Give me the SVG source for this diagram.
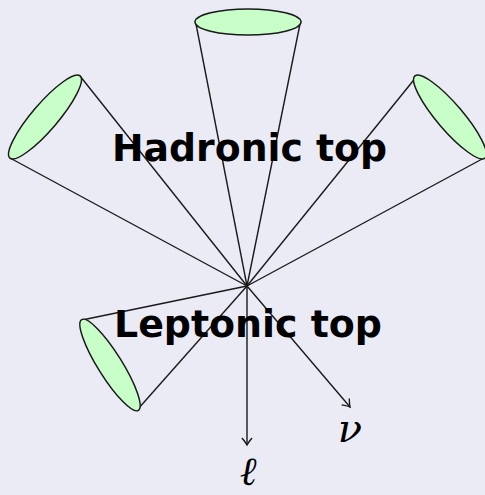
<svg xmlns="http://www.w3.org/2000/svg" width="485" height="495" viewBox="0 0 485 495">
  <defs>
    <style>
      .cone { fill: #c8ffc8; stroke: #1a1a1a; stroke-width: 1.5; }
      .edge { stroke: #1a1a1a; stroke-width: 1.4; fill: none; }
      .lbl { font-family: "DejaVu Sans", "Liberation Sans", sans-serif; font-weight: bold; font-size: 37px; fill: #000; }
      .math { font-family: "DejaVu Serif", "Liberation Serif", serif; font-style: italic; fill: #000; }
    </style>
    <marker id="to" viewBox="-8 -6 10 12" markerWidth="10" markerHeight="12" refX="0" refY="0" orient="auto" markerUnits="userSpaceOnUse">
      <path d="M -7 -5 Q -2 -1 0 0 Q -2 1 -7 5" fill="none" stroke="#1a1a1a" stroke-width="1.4"/>
    </marker>
  </defs>
  <rect width="485" height="495" fill="#ebebf6"/>

  <g id="connectors">
    <!-- top cone -->
    <line class="edge" x1="196" y1="24" x2="247" y2="286"/>
    <line class="edge" x1="300" y1="24" x2="247" y2="286"/>
    <!-- left cone -->
    <line class="edge" x1="80" y1="76" x2="247" y2="286"/>
    <line class="edge" x1="10" y1="158" x2="247" y2="286"/>
    <!-- right cone -->
    <line class="edge" x1="417" y1="76" x2="247" y2="286"/>
    <line class="edge" x1="484" y1="158" x2="247" y2="286"/>
    <!-- leptonic cone -->
    <line class="edge" x1="82" y1="320" x2="247" y2="286"/>
    <line class="edge" x1="138" y1="409" x2="247" y2="286"/>
    <!-- lepton and neutrino -->
    <line class="edge" x1="247" y1="286" x2="247" y2="445" marker-end="url(#to)"/>
    <line class="edge" x1="247" y1="286" x2="350" y2="407" marker-end="url(#to)"/>
  </g>

  <g id="jet-top">
    <ellipse class="cone" cx="248" cy="22" rx="53" ry="13"/>
  </g>
  <g id="jet-left">
    <ellipse class="cone" cx="45" cy="117" rx="54" ry="13" transform="rotate(-49.5 45 117)"/>
  </g>
  <g id="jet-right">
    <ellipse class="cone" cx="450" cy="117" rx="54" ry="13" transform="rotate(49.5 450 117)"/>
  </g>
  <g id="jet-leptonic">
    <ellipse class="cone" cx="110" cy="365" rx="53.5" ry="12" transform="rotate(58 110 365)"/>
  </g>

  <g id="hadronic-label">
    <text class="lbl" x="112" y="161" textLength="275" lengthAdjust="spacingAndGlyphs">Hadronic top</text>
  </g>
  <g id="leptonic-label">
    <text class="lbl" x="114" y="337" textLength="268" lengthAdjust="spacingAndGlyphs">Leptonic top</text>
  </g>
  <g id="lepton-label">
    <text class="math" x="248" y="485" font-size="40" text-anchor="middle">ℓ</text>
  </g>
  <g id="neutrino-label">
    <text class="math" x="350" y="442" font-size="40" text-anchor="middle">ν</text>
  </g>
</svg>
